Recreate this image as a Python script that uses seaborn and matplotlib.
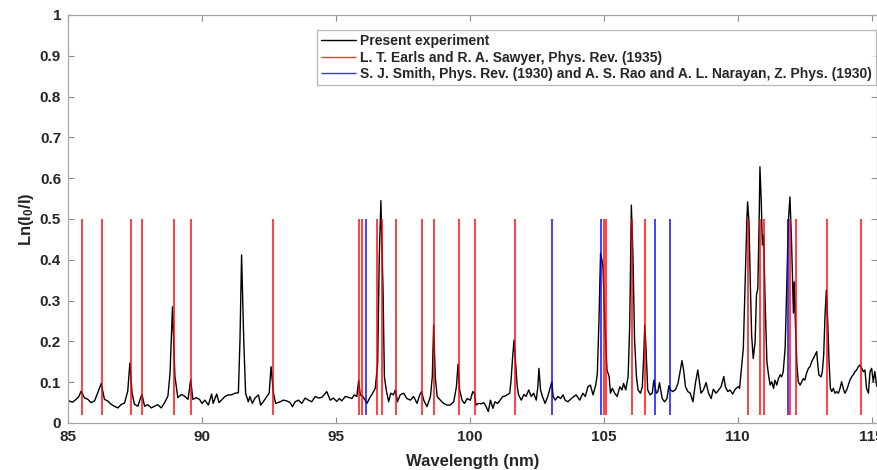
import matplotlib
matplotlib.use("Agg")
import matplotlib.pyplot as plt
import seaborn as sns
import pandas as pd

# ---------------- data ----------------
wavelength = [
    85.00, 85.05, 85.17, 85.30, 85.40, 85.49, 85.61, 85.74, 85.86, 85.99,
    86.11, 86.24, 86.36, 86.48, 86.61, 86.73, 86.86, 86.98, 87.11, 87.23,
    87.31, 87.39, 87.48, 87.61, 87.69, 87.76, 87.86, 87.98, 88.11, 88.23,
    88.35, 88.48, 88.60, 88.73, 88.81, 88.90, 88.99, 89.10, 89.23, 89.35,
    89.48, 89.58, 89.66, 89.79, 89.91,
    90.00, 90.11, 90.24, 90.36, 90.42, 90.55, 90.64, 90.73, 90.86, 90.98,
    91.11, 91.23, 91.36, 91.42, 91.48, 91.56, 91.63, 91.73, 91.79, 91.88,
    91.98, 92.11, 92.19, 92.29, 92.42, 92.51, 92.58, 92.67, 92.75, 92.92,
    93.04, 93.17, 93.29, 93.38, 93.48, 93.60, 93.73, 93.85, 93.98, 94.10,
    94.23, 94.35, 94.48, 94.66, 94.79, 94.91,
    95.03, 95.13, 95.22, 95.35, 95.47, 95.60, 95.68, 95.78, 95.85, 95.91,
    96.01, 96.09, 96.16, 96.26, 96.38, 96.47, 96.56, 96.62, 96.68, 96.76,
    96.81, 96.88, 96.97, 97.05, 97.15, 97.22, 97.30, 97.40, 97.53, 97.65,
    97.78, 97.90, 98.03, 98.13, 98.20, 98.28, 98.40, 98.53, 98.60, 98.65,
    98.71, 98.78, 98.90, 99.02, 99.15, 99.27, 99.40, 99.50, 99.56, 99.62,
    99.71, 99.80, 99.90,
    100.02, 100.11, 100.17, 100.23, 100.32, 100.42, 100.52, 100.61, 100.69, 100.77,
    100.86, 100.94, 101.04, 101.13, 101.23, 101.32, 101.42, 101.49, 101.54, 101.60,
    101.65, 101.70, 101.77, 101.82, 101.92, 102.02, 102.10, 102.20, 102.29, 102.38,
    102.48, 102.54, 102.58, 102.64, 102.71, 102.81, 102.91, 103.01, 103.06, 103.11,
    103.19, 103.29, 103.39, 103.48, 103.56, 103.66, 103.79, 103.89, 103.97, 104.10,
    104.22, 104.31, 104.41, 104.50, 104.60, 104.70, 104.76, 104.82, 104.88, 104.93,
    104.97, 105.04, 105.12, 105.20, 105.25, 105.32, 105.41, 105.50, 105.60, 105.68,
    105.74, 105.82, 105.91, 105.97, 106.03, 106.09, 106.15, 106.22, 106.28, 106.37,
    106.44, 106.50, 106.53, 106.58, 106.64, 106.73, 106.81, 106.87, 106.96, 107.02,
    107.08, 107.18, 107.27, 107.36, 107.43, 107.49, 107.58, 107.68, 107.77, 107.85,
    107.92, 107.98, 108.05, 108.14, 108.23, 108.33, 108.42, 108.51, 108.57, 108.63,
    108.72, 108.82, 108.91, 109.01, 109.09, 109.19, 109.29, 109.38, 109.48, 109.54,
    109.63, 109.71, 109.81, 109.91,
    110.02, 110.07, 110.15, 110.21, 110.27, 110.34, 110.37, 110.42, 110.47, 110.52,
    110.58, 110.65, 110.70, 110.75, 110.80, 110.83, 110.88, 110.92, 110.97, 111.02,
    111.09, 111.15, 111.21, 111.27, 111.34, 111.39, 111.46, 111.52, 111.59, 111.64,
    111.70, 111.77, 111.83, 111.89, 111.95, 112.01, 112.08, 112.11, 112.16, 112.21,
    112.26, 112.33, 112.39, 112.45, 112.51, 112.57, 112.64, 112.70, 112.76, 112.82,
    112.89, 112.95, 112.98, 113.03, 113.11, 113.16, 113.21, 113.26, 113.31, 113.36,
    113.41, 113.46, 113.51, 113.57, 113.63, 113.69, 113.76, 113.82, 113.88, 113.94,
    114.00, 114.07, 114.13, 114.19, 114.25, 114.31, 114.38, 114.44, 114.50, 114.56,
    114.63, 114.69, 114.75, 114.81, 114.88, 114.94, 115.00, 115.06, 115.12, 115.19,
]
absorbance = [
    0.050, 0.054, 0.051, 0.058, 0.064, 0.078, 0.062, 0.058, 0.050, 0.054,
    0.074, 0.097, 0.058, 0.054, 0.046, 0.041, 0.037, 0.045, 0.049, 0.078,
    0.147, 0.074, 0.046, 0.041, 0.058, 0.070, 0.041, 0.045, 0.037, 0.041,
    0.045, 0.037, 0.049, 0.066, 0.123, 0.285, 0.115, 0.062, 0.070, 0.066,
    0.058, 0.106, 0.058, 0.062, 0.058,
    0.048, 0.056, 0.044, 0.071, 0.048, 0.071, 0.050, 0.056, 0.065, 0.069,
    0.069, 0.073, 0.074, 0.203, 0.412, 0.203, 0.073, 0.052, 0.065, 0.048,
    0.061, 0.069, 0.044, 0.052, 0.065, 0.073, 0.138, 0.073, 0.048, 0.052,
    0.056, 0.054, 0.050, 0.040, 0.052, 0.056, 0.048, 0.061, 0.056, 0.052,
    0.065, 0.061, 0.063, 0.077, 0.056, 0.061,
    0.053, 0.060, 0.054, 0.065, 0.063, 0.060, 0.069, 0.065, 0.104, 0.069,
    0.065, 0.056, 0.048, 0.061, 0.074, 0.085, 0.146, 0.408, 0.545, 0.326,
    0.114, 0.081, 0.052, 0.073, 0.069, 0.081, 0.052, 0.069, 0.073, 0.060,
    0.056, 0.065, 0.048, 0.069, 0.077, 0.056, 0.040, 0.065, 0.114, 0.240,
    0.114, 0.065, 0.056, 0.048, 0.044, 0.044, 0.052, 0.089, 0.144, 0.081,
    0.056, 0.048, 0.060,
    0.056, 0.077, 0.073, 0.044, 0.048, 0.047, 0.050, 0.040, 0.028, 0.056,
    0.036, 0.052, 0.048, 0.056, 0.065, 0.066, 0.070, 0.073, 0.105, 0.163,
    0.203, 0.154, 0.089, 0.069, 0.056, 0.070, 0.065, 0.081, 0.065, 0.073,
    0.056, 0.089, 0.134, 0.081, 0.065, 0.048, 0.065, 0.089, 0.101, 0.065,
    0.056, 0.065, 0.060, 0.069, 0.056, 0.052, 0.060, 0.065, 0.069, 0.056,
    0.073, 0.065, 0.089, 0.093, 0.069, 0.093, 0.121, 0.248, 0.416, 0.400,
    0.383, 0.244, 0.130, 0.114, 0.073, 0.085, 0.073, 0.065, 0.089, 0.081,
    0.097, 0.081, 0.114, 0.244, 0.534, 0.408, 0.203, 0.114, 0.081, 0.073,
    0.089, 0.179, 0.240, 0.179, 0.081, 0.069, 0.073, 0.105, 0.073, 0.077,
    0.099, 0.060, 0.052, 0.060, 0.091, 0.081, 0.077, 0.082, 0.097, 0.126,
    0.153, 0.130, 0.089, 0.077, 0.073, 0.052, 0.097, 0.130, 0.101, 0.073,
    0.081, 0.099, 0.073, 0.060, 0.083, 0.073, 0.081, 0.089, 0.114, 0.089,
    0.077, 0.081, 0.071, 0.083,
    0.089, 0.085, 0.142, 0.183, 0.330, 0.493, 0.542, 0.493, 0.346, 0.215,
    0.158, 0.199, 0.313, 0.330, 0.493, 0.628, 0.542, 0.436, 0.460, 0.305,
    0.150, 0.118, 0.093, 0.101, 0.085, 0.105, 0.093, 0.109, 0.118, 0.113,
    0.126, 0.183, 0.330, 0.493, 0.554, 0.444, 0.269, 0.346, 0.232, 0.142,
    0.101, 0.093, 0.101, 0.109, 0.105, 0.122, 0.134, 0.138, 0.150, 0.158,
    0.167, 0.175, 0.150, 0.118, 0.113, 0.126, 0.167, 0.264, 0.326, 0.248,
    0.150, 0.085, 0.077, 0.085, 0.073, 0.077, 0.073, 0.085, 0.101, 0.085,
    0.073, 0.081, 0.093, 0.105, 0.113, 0.118, 0.126, 0.130, 0.138, 0.142,
    0.134, 0.126, 0.130, 0.085, 0.073, 0.126, 0.134, 0.101, 0.126, 0.090,
]

earls_sawyer_lines = [85.54, 86.27, 87.36, 87.78, 88.97, 89.61, 92.64, 95.87, 95.99,
                      96.54, 96.74, 97.26, 98.23, 98.68, 99.60, 100.19, 101.67,
                      105.00, 105.09, 106.06, 106.55, 110.39, 110.85, 111.00,
                      111.97, 112.16, 113.33, 114.60]
smith_rao_lines = [96.11, 103.07, 104.90, 106.92, 107.47, 111.89]
line_bottom = 0.02
line_top = 0.5

label_present = "Present experiment"
label_earls = "L. T. Earls and R. A. Sawyer, Phys. Rev. (1935)"
label_smith = "S. J. Smith, Phys. Rev. (1930) and A. S. Rao and A. L. Narayan, Z. Phys. (1930)"

x_ticks = [85, 90, 95, 100, 105, 110, 115]
y_ticks = [0, 0.1, 0.2, 0.3, 0.4, 0.5, 0.6, 0.7, 0.8, 0.9, 1]
y_tick_labels = ["0", "0.1", "0.2", "0.3", "0.4", "0.5", "0.6", "0.7", "0.8", "0.9", "1"]

# ---------------- style ----------------
sns.set_style("white")
plt.rcParams["font.family"] = ["Liberation Sans", "DejaVu Sans"]
plt.rcParams["mathtext.fontset"] = "custom"
plt.rcParams["mathtext.rm"] = "Liberation Sans:bold"
plt.rcParams["mathtext.bf"] = "Liberation Sans:bold"
plt.rcParams["mathtext.it"] = "Liberation Sans:bold"

fig = plt.figure(figsize=(8.78, 4.70), dpi=100)
ax = fig.add_axes([68 / 878, 47 / 470, (877 - 68) / 878, 408 / 470])

df = pd.DataFrame({"wavelength": wavelength, "absorbance": absorbance})
sns.lineplot(data=df, x="wavelength", y="absorbance", color="black", lw=1.0,
             sort=False, estimator=None, ax=ax, label=label_present, zorder=2)

ax.vlines(earls_sawyer_lines, line_bottom, line_top, colors="#ff0000", lw=1.3,
          alpha=0.8, label=label_earls, zorder=3)
ax.vlines(smith_rao_lines, line_bottom, line_top, colors="#0000ff", lw=1.3,
          alpha=0.8, label=label_smith, zorder=3)

ax.set_xlim(85, 115.2)
ax.set_ylim(0, 1)
ax.set_xticks(x_ticks)
ax.set_xticklabels([str(t) for t in x_ticks])
ax.set_yticks(y_ticks)
ax.set_yticklabels(y_tick_labels)

for lab in ax.get_xticklabels() + ax.get_yticklabels():
    lab.set_fontweight("bold")
    lab.set_fontsize(11)
    lab.set_color("#262626")

ax.tick_params(direction="in", length=4, width=0.8, color="#8c8c8c",
               top=True, right=True, bottom=True, left=True, pad=5)
for sp in ax.spines.values():
    sp.set_color("#a6a6a6")
    sp.set_linewidth(0.9)

ax.set_xlabel("Wavelength (nm)", fontsize=12, fontweight="bold", color="#262626", labelpad=7)
ax.set_ylabel(r"Ln(I$_{0}$/I)", fontsize=12, fontweight="bold", color="#262626", labelpad=3)

leg = ax.legend(loc="upper right", bbox_to_anchor=(0.999, 0.963), borderaxespad=0,
                prop={"weight": "bold", "size": 10}, frameon=True, fancybox=False,
                edgecolor="#a6a6a6", handlelength=2.5, handletextpad=0.3,
                labelspacing=0.18, borderpad=0.3)
leg.get_frame().set_linewidth(0.9)
for h in leg.legend_handles:
    h.set_linewidth(1.0)

fig.savefig("out.png", dpi=100)
